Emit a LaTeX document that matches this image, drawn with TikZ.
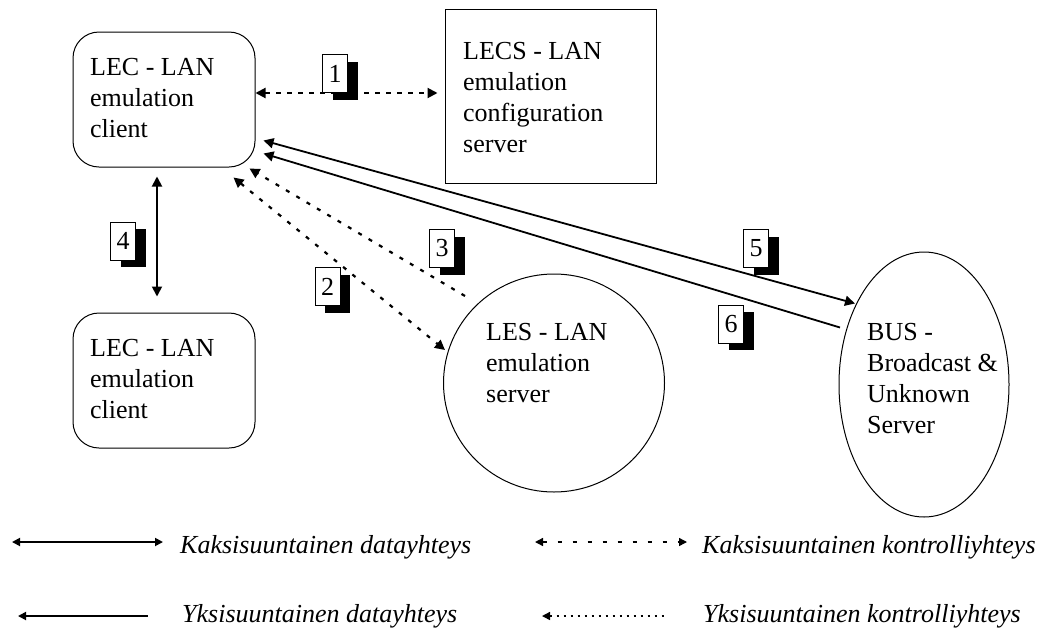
\documentclass[tikz,border=0pt]{standalone}
\usepackage{fontspec}
\setmainfont{Liberation Serif}
\usetikzlibrary{arrows.meta,calc,shadows,shapes.geometric}

\tikzset{
  bigtri/.tip={Triangle[length=10pt,width=10pt]},
  smtri/.tip={Triangle[length=8pt,width=8pt]}
}

\begin{document}
\begin{tikzpicture}[x=1pt,y=-1pt,
  every node/.style={font=\fontsize{26}{31}\selectfont},
  unit/.style={draw, line width=1pt, inner sep=0pt},
  client/.style={unit, rectangle, rounded corners=26pt, minimum width=182pt, minimum height=135pt},
  txt/.style={anchor=base west, inner sep=0pt},
  legtxt/.style={anchor=base west, inner sep=0pt, font=\fontsize{26}{31}\selectfont\itshape},
  numbox/.style={draw, line width=0.8pt, fill=white, inner sep=0pt,
    minimum width=25pt, minimum height=38pt,
    general shadow={fill=black, shadow xshift=10pt, shadow yshift=-7pt}},
  data/.style={line width=1.8pt},
  ctrl/.style={line width=2.2pt, dash pattern=on 4pt off 8pt},
  ctrlh/.style={line width=2pt, dash pattern=on 5pt off 6pt},
  legdash/.style={line width=1.4pt, dash pattern=on 4pt off 11pt},
  legdot/.style={line width=1.4pt, dash pattern=on 2pt off 5pt}
]
\useasboundingbox (0,0) rectangle (1058,630);

% units
\node[client] (lecA) at (164,99.5) {};
\node[client] (lecB) at (164,380.5) {};
\node[unit, rectangle, minimum width=211pt, minimum height=174pt] (lecs) at (550.5,96) {};
\node[unit, ellipse, minimum width=221pt, minimum height=218pt] (les) at (554,383) {};
\node[unit, ellipse, minimum width=170pt, minimum height=265pt] (bus) at (924,384.5) {};

% unit texts
\node[txt] (lecAt) at (90,75) {\vtop{\hbox{LEC - LAN}\hbox{emulation}\hbox{client}}};
\node[txt] (lecBt) at (90,356) {\vtop{\hbox{LEC - LAN}\hbox{emulation}\hbox{client}}};
\node[txt] (lecst) at (463,59) {\vtop{\hbox{LECS - LAN}\hbox{emulation}\hbox{configuration}\hbox{server}}};
\node[txt] (lest) at (486,340) {\vtop{\hbox{LES - LAN}\hbox{emulation}\hbox{server}}};
\node[txt] (bust) at (867,340) {\vtop{\hbox{BUS -}\hbox{Broadcast \&}\hbox{Unknown}\hbox{Server}}};

% connector end points
\coordinate (c1b) at ($(lecs.west)+(0,-3)$);
\coordinate (c1a) at (c1b -| lecA.east);
\coordinate (c4a) at ($(lecA.south)+(-7,9)$);
\coordinate (c4b) at ($(lecB.north)+(-7,-16)$);
\coordinate (c5a) at ($(lecA.south east)+(8,-27)$);
\coordinate (c6a) at ($(lecA.south east)+(8,-14)$);
\coordinate (c3a) at ($(lecA.south east)+(-6,1)$);
\coordinate (c2a) at ($(lecA.south east)+(-22,10)$);
\coordinate (c5b) at ($(bus.center)+(-69,-81)$);
\coordinate (c6b) at ($(bus.center)+(-84,-57)$);
\coordinate (c3b) at ($(les.center)+(-89,-87)$);
\coordinate (c2b) at ($(les.center)+(-109,-33)$);

% connectors
\draw[ctrlh, bigtri-bigtri, shorten >=7pt] (c1a) -- (c1b);
\draw[data, bigtri-bigtri] (c4a) -- (c4b);
\draw[data, bigtri-bigtri] (c5a) -- (c5b);
\draw[data, -bigtri] (c6b) -- (c6a);
\draw[ctrl, -bigtri] (c3b) -- (c3a);
\draw[ctrl, bigtri-bigtri] (c2a) -- (c2b);

% connector numbers
\node[numbox] (n1) at (335,73.5) {1};
\node[numbox] (n2) at (327.5,286.5) {2};
\node[numbox] (n3) at (442,248.5) {3};
\node[numbox] (n4) at (123,241) {4};
\node[numbox] (n5) at (756,248.5) {5};
\node[numbox] (n6) at (731,324) {6};

% legend
\coordinate (k1a) at (12,542);
\coordinate (k1b) at (163,542);
\coordinate (y1a) at (18,616);
\coordinate (y1b) at (148,616);
\coordinate (k2a) at (535,542);
\coordinate (k2b) at (687,542);
\coordinate (y2a) at (542,616);
\coordinate (y2b) at (667,616);
\draw[data, smtri-smtri] (k1a) -- (k1b);
\draw[data, smtri-] (y1a) -- (y1b);
\draw[legdash, smtri-smtri] (k2a) -- (k2b);
\draw[legdot, smtri-] (y2a) -- (y2b);
\node[legtxt] (k1t) at (180,553) {Kaksisuuntainen datayhteys};
\node[legtxt] (y1t) at (182,622) {Yksisuuntainen datayhteys};
\node[legtxt] (k2t) at (702,553) {Kaksisuuntainen kontrolliyhteys};
\node[legtxt] (y2t) at (703,622) {Yksisuuntainen kontrolliyhteys};
\end{tikzpicture}
\end{document}
